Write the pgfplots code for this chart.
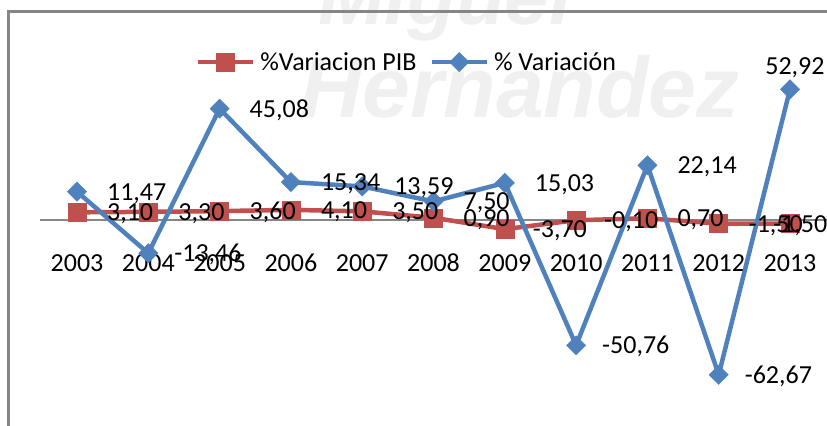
\documentclass[border=0pt]{standalone}
\usepackage{pgfplots}
\pgfplotsset{compat=1.18}
\usepackage{pgfplotstable}
\usepackage{fontspec}
\setmainfont{Carlito}
\newfontfamily\wmfont{Liberation Sans}
\definecolor{xlred}{HTML}{C0504D}
\definecolor{xlblue}{HTML}{4F81BD}
\definecolor{frame}{HTML}{868686}

\pgfplotstableread{
x y lab dx dy
2003 3.10 3,10 30 -8.5
2004 3.30 3,30 30 -8.5
2005 3.60 3,60 30 -8.5
2006 4.10 4,10 30 -8.5
2007 3.50 3,50 30 -8.5
2008 0.90 0,90 30 -8.5
2009 -3.70 -3,70 28 -8.5
2010 -0.10 -0,10 28 -8.5
2011 0.70 0,70 30 -8.5
2012 -1.50 -1,50 30 -8.5
2013 -1.50 -1,50 -17 -8.5
}\pib

\pgfplotstableread{
x y lab dx dy
2003 11.47 11,47 30 -8.5
2004 -13.46 -13,46 26 -8.5
2005 45.08 45,08 30 -8.5
2006 15.34 15,34 30 -8.5
2007 13.59 13,59 32 -8.5
2008 7.50 7,50 30 -8.5
2009 15.03 15,03 30 -8.5
2010 -50.76 -50,76 26 -8.5
2011 22.14 22,14 30 -8.5
2012 -62.67 -62,67 26 -8.5
2013 52.92 52,92 -25 14.5
}\var

\begin{document}
\begin{tikzpicture}
\useasboundingbox (0,0) rectangle (827bp,426bp);
\clip (0,0) rectangle (827bp,426bp);
\node[anchor=base, text=black!6, font=\wmfont\bfseries\itshape\fontsize{80bp}{80bp}\selectfont] at (445bp,401bp) {Miguel};
\node[anchor=base, text=black!6, font=\wmfont\bfseries\itshape\fontsize{86bp}{86bp}\selectfont] at (520bp,308bp) {Hernandez};
\begin{axis}[
  scale only axis, width=831.5bp, height=428.5bp,
  at={(8.5bp,-14bp)}, anchor=south west,
  xmin=2002.039, xmax=2013.701, ymin=-89.07, ymax=84.41,
  axis x line=middle, axis y line=none,
  x axis line style={-, draw=frame, line width=2bp, shorten <=31.5bp},
  xtick={2003,2004,2005,2006,2007,2008,2009,2010,2011,2012,2013},
  xticklabels={2003,2004,2005,2006,2007,2008,2009,2010,2011,2012,2013},
  scaled x ticks=false,
  major tick length=0pt,
  xticklabel style={anchor=base, yshift=-52bp, inner sep=0pt, text=black, font=\fontsize{26bp}{31bp}\selectfont},
  clip=false,
  legend columns=2,
  legend style={at={(0.478,0.882)}, anchor=center, draw=none, fill=none, inner sep=0pt,
    font=\fontsize{26bp}{31bp}\selectfont, nodes={inner sep=0pt},
    /tikz/every odd column/.style={column sep=5bp},
    /tikz/every even column/.style={column sep=13bp}},
  legend image code/.code={\draw[mark repeat=2,mark phase=2,#1] plot coordinates {(0bp,0bp) (27.5bp,0bp) (55bp,0bp)};},
]
\addplot[xlred, line width=4.5bp, mark=square*, mark size=9bp, mark options={line width=0.5bp}] table[x=x,y=y] {\pib};
\addlegendentry{\%Variacion PIB}
\addplot[xlblue, line width=4.5bp, mark=square*, mark size=6.8bp, mark options={rotate=45, line width=0.5bp}] table[x=x,y=y] {\var};
\addlegendentry{\% Variación}

\addplot[forget plot, draw=none, mark=none, point meta=explicit symbolic, nodes near coords,
  visualization depends on={\thisrow{dx}\as\dx},
  visualization depends on={\thisrow{dy}\as\dy},
  nodes near coords style={anchor=base west, inner sep=0pt, xshift=\dx*1pt, yshift=\dy*1pt, text=black, font=\fontsize{26bp}{31bp}\selectfont}]
  table[x=x,y=y,meta=lab] {\pib};
\addplot[forget plot, draw=none, mark=none, point meta=explicit symbolic, nodes near coords,
  visualization depends on={\thisrow{dx}\as\dx},
  visualization depends on={\thisrow{dy}\as\dy},
  nodes near coords style={anchor=base west, inner sep=0pt, xshift=\dx*1pt, yshift=\dy*1pt, text=black, font=\fontsize{26bp}{31bp}\selectfont}]
  table[x=x,y=y,meta=lab] {\var};

\draw[frame, line width=3bp] (rel axis cs:0,0) -- (rel axis cs:0,1) -- (rel axis cs:1,1);
\end{axis}
\end{tikzpicture}
\end{document}
